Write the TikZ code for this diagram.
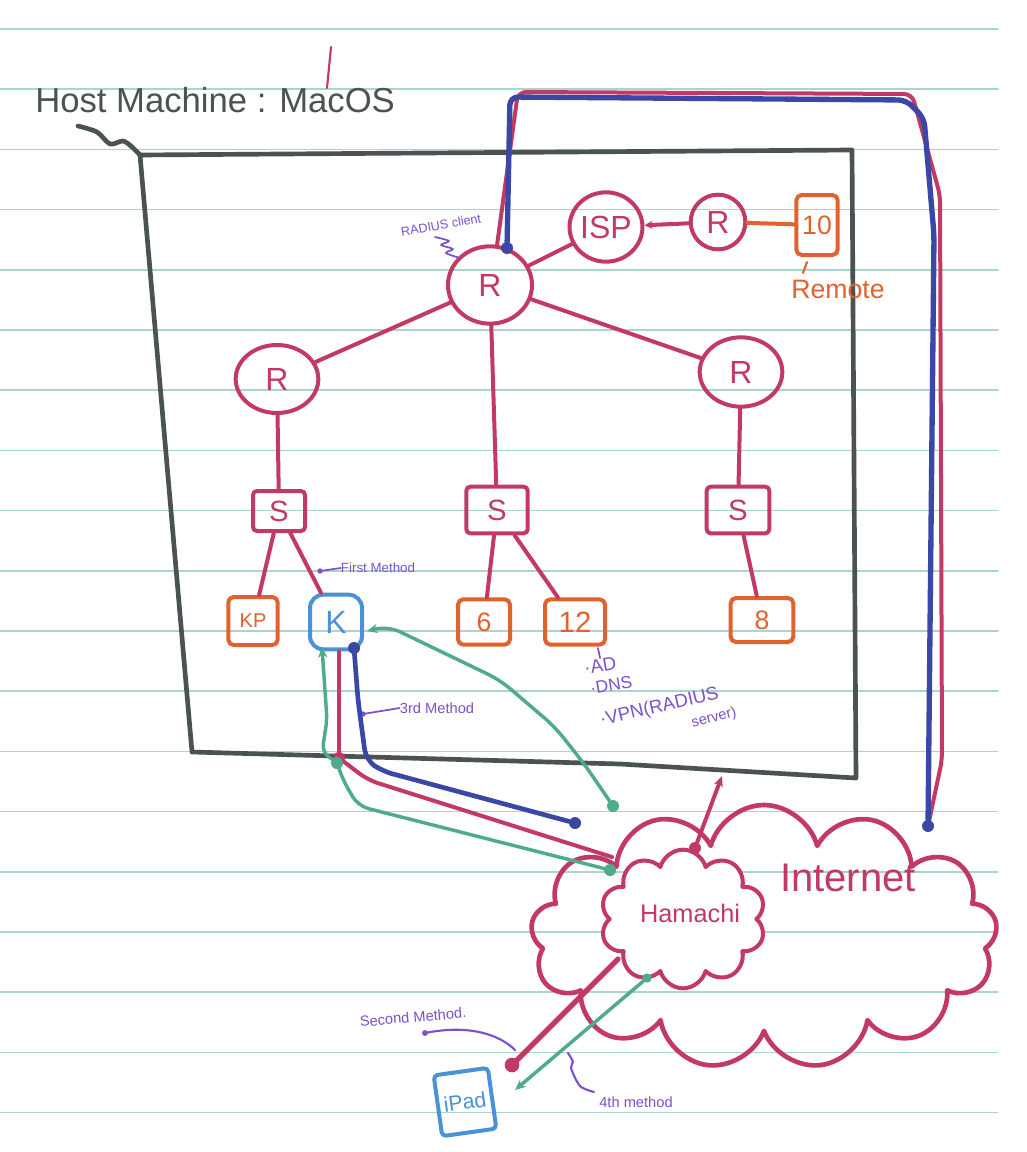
\documentclass[tikz,border=0pt]{standalone}
\usepackage{fontspec}
\setmainfont{Liberation Sans}
\usetikzlibrary{shapes.geometric,shapes.symbols,arrows.meta}
\definecolor{ruleclr}{HTML}{AAD4CF}
\definecolor{pnk}{HTML}{C23A63}
\definecolor{orng}{HTML}{E0622E}
\definecolor{navy}{HTML}{3A47A6}
\definecolor{lblue}{HTML}{4A92D6}
\definecolor{grn}{HTML}{50AA8C}
\definecolor{purp}{HTML}{7B52CC}
\definecolor{slate}{HTML}{4A5352}
\begin{document}
\begin{tikzpicture}[x=0.75pt,y=-0.75pt,line cap=round,line join=round,
  router/.style={ellipse,draw=pnk,line width=3pt,text=pnk,inner sep=0pt,font=\fontsize{24}{26}\selectfont},
  swbox/.style={rectangle,draw=pnk,line width=3pt,text=pnk,rounded corners=3pt,inner sep=0pt,font=\fontsize{22}{24}\selectfont},
  pcbox/.style={rectangle,draw=orng,line width=3pt,text=orng,rounded corners=4pt,inner sep=0pt,font=\fontsize{20}{22}\selectfont},
  link/.style={draw=pnk,line width=3pt},
  glink/.style={draw=grn,line width=2.6pt},
  blink/.style={draw=navy,line width=3.5pt},
  note/.style={text=purp,inner sep=0pt},
  noteline/.style={draw=purp,line width=1.3pt},
  dot/.style={circle,fill,inner sep=0pt,minimum size=9pt},
  tip/.style={-{Stealth[length=8pt,width=7pt]}}
]
\useasboundingbox (0,0) rectangle (1026,1152);
\fill[white] (0,0) rectangle (1026,1152);
% ruled paper
\foreach \k in {0,...,18} \draw[ruleclr,line width=1.1pt] (0,{29+60.2*\k}) -- (998,{29+60.2*\k});

% host machine
\node[text=slate,anchor=base west,inner sep=0pt,font=\fontsize{26}{28}\selectfont] (host) at (35,113) {Host Machine : MacOS};
\draw[pnk,line width=1.6pt] (331,47) -- (327,88);
\draw[slate,line width=3.5pt] plot[smooth] coordinates {(78,126) (97,132) (110,144) (123,141) (132,147) (140,155)};
\draw[slate,line width=3.5pt] (140,155) -- (852,150) -- (856,778) -- (620,764) -- (192,752) -- cycle;

% clouds
\node[cloud,cloud puffs=13,cloud ignores aspect,draw=pnk,line width=3.5pt,minimum width=350pt,minimum height=198pt] (inet) at (764,937) {};
\node[cloud,cloud puffs=10,cloud ignores aspect,draw=pnk,fill=white,line width=3pt,minimum width=124pt,minimum height=104pt] (hama) at (683,919) {};
\node[text=pnk,font=\fontsize{30}{32}\selectfont] (inettxt) at (848,878) {Internet};
\node[text=pnk,font=\fontsize{19}{21}\selectfont] (hamatxt) at (690,913) {Hamachi};

% routers
\node[router,minimum width=63pt,minimum height=58pt] (rmain) at (490,285) {R};
\node[router,minimum width=62pt,minimum height=51pt] (rleft) at (277,379) {R};
\node[router,minimum width=62pt,minimum height=52pt] (rright) at (741,372) {R};
\node[router,minimum width=51pt,minimum height=52pt] (isp) at (606,227) {ISP};
\node[router,minimum width=41pt,minimum height=41pt] (rremote) at (718,222) {R};
\node[pcbox,minimum width=31pt,minimum height=45pt] (pc10) at (817,225) {10};
\node[text=orng,font=\fontsize{20}{22}\selectfont] (remote) at (838,289) {Remote};
\draw[orng,line width=1.6pt] (807,262) -- (803,273);

% switches
\node[swbox,minimum width=39pt,minimum height=30pt] (sleft) at (279,511) {S};
\node[swbox,minimum width=46pt,minimum height=35pt] (smid) at (497,510) {S};
\node[swbox,minimum width=47pt,minimum height=35pt] (sright) at (738,510) {S};

% end hosts
\node[pcbox,minimum width=37pt,minimum height=36pt,font=\fontsize{15}{17}\selectfont] (kp) at (253,621) {KP};
\node[rectangle,draw=lblue,line width=3pt,text=lblue,rounded corners=10pt,minimum width=39pt,minimum height=41pt,font=\fontsize{24}{26}\selectfont] (k) at (336,622) {K};
\node[pcbox,minimum width=39pt,minimum height=34pt] (pc6) at (484,622) {6};
\node[pcbox,minimum width=45pt,minimum height=34pt,font=\fontsize{22}{24}\selectfont] (pc12) at (575,622) {12};
\node[pcbox,minimum width=47pt,minimum height=33pt] (pc8) at (762,620) {8};

% links
\draw[link] (rmain) -- (isp);
\draw[link,{Stealth[length=6pt,width=6pt]}-] (isp) -- (rremote);
\draw[orng,line width=3pt] (rremote) -- (pc10);
\draw[link] (rmain) -- (rleft);
\draw[link] (rmain) -- (rright);
\draw[link] (rmain) -- (smid);
\draw[link] (rleft) -- (sleft);
\draw[link] (rright) -- (sright);
\draw[link] (sleft) -- (kp);
\draw[link] (sleft) -- (k);
\draw[link] (smid) -- (pc6);
\draw[link] (smid) -- (pc12);
\draw[link] (sright) -- (pc8);

% annotations
\node[note,rotate=10,font=\fontsize{9.5}{11}\selectfont] (radc) at (441,225) {RADIUS client};
\draw[noteline] plot[smooth] coordinates {(435,237) (449,241) (441,245) (453,249) (446,253) (460,258)};
\node[note,font=\fontsize{10}{12}\selectfont] (firstm) at (378,568) {First Method};
\coordinate (fm0) at (320,571);
\fill[purp] (fm0) circle (2pt);
\draw[noteline] (fm0) -- (firstm.west);
\node[note,font=\fontsize{11}{13}\selectfont] (thirdm) at (437,708) {3rd Method};
\coordinate (tm0) at (363,714);
\fill[purp] (tm0) circle (2pt);
\draw[noteline] (tm0) -- (thirdm.west);
\draw[noteline] (598,648) -- (600,658);
\node[note,rotate=10,anchor=west,font=\fontsize{14}{16}\selectfont] (ad) at (584,668) {·AD};
\node[note,rotate=10,anchor=west,font=\fontsize{13}{15}\selectfont] (dns) at (590,689) {·DNS};
\node[note,rotate=13,anchor=west,font=\fontsize{14}{16}\selectfont] (vpn) at (600,721) {·VPN(RADIUS};
\node[note,rotate=15,font=\fontsize{11}{13}\selectfont] (srv) at (714,718) {server)};

% top loop to Internet
\node[dot,navy] (bd1) at (507,248) {};
\node[dot,navy] (bd2) at (928,826) {};
\draw[link,rounded corners=6pt] (rmain.80) -- (518,92) -- (912,94) -- (940,195) -- (942,760) -- (bd2);
\draw[blink,line width=4pt,rounded corners=6pt] (bd1) -- (510,97) -- (906,100) -- (924,118) -- (934,235) -- (bd2);

% Hamachi to host
\node[dot,pnk] (hd) at (695,848) {};
\coordinate (hb) at (722,776);
\draw[link,tip] (hd) -- (hb);

% K connections
\node[dot,navy] (kb) at (354,648) {};
\node[dot,navy] (bd3) at (575,823) {};
\draw[blink,rounded corners=8pt] (kb) -- (358,700) -- (366,760) -- (382,771) -- (bd3);
\node[dot,pnk] (pd) at (339,758) {};
\coordinate (hp) at (612,857);
\draw[link] (k.south -| pd) -- (pd);
\draw[link,rounded corners=8pt] (pd) -- (368,780) -- (hp);
\node[dot,grn] (gd) at (337,763) {};
\node[dot,grn] (gh) at (610,870) {};
\coordinate (ka1) at (322,647);
\draw[glink,tip,rounded corners=6pt] (gd) -- (322,752) -- (327,720) -- (ka1);
\draw[glink,rounded corners=8pt] (gd) -- (343,780) -- (358,806) -- (gh);
\node[dot,grn] (gi) at (613,806) {};
\coordinate (ka2) at (367,631);
\draw[glink,tip,rounded corners=10pt] (gi) -- (585,765) -- (555,727) -- (500,680) -- (388,626) -- (ka2);

% iPad
\node[rectangle,draw=lblue,line width=3pt,text=lblue,rotate=8,rounded corners=3pt,minimum width=41pt,minimum height=46pt,font=\fontsize{16}{18}\selectfont] (ipad) at (465,1102) {iPad};
\node[dot,pnk,minimum size=11pt] (ipd) at (512,1065) {};
\coordinate (hl) at (618,959);
\draw[link,line width=4pt] (ipd) -- (hl);
\node[dot,grn,minimum size=7pt] (gh2) at (647,978) {};
\coordinate (ia) at (515,1090);
\draw[glink,tip] (gh2) -- (ia);
\node[note,rotate=5,font=\fontsize{11}{13}\selectfont] (secm) at (413,1017) {Second Method.};
\coordinate (sm0) at (425,1033);
\fill[purp] (sm0) circle (2.2pt);
\draw[noteline,line width=1.6pt] (sm0) .. controls (470,1024) and (500,1035) .. (515,1050);
\node[note,font=\fontsize{11}{13}\selectfont] (fourm) at (636,1102) {4th method};
\draw[noteline,line width=1.6pt] plot[smooth] coordinates {(568,1053) (573,1062) (571,1068) (580,1086) (594,1092)};
\end{tikzpicture}
\end{document}
